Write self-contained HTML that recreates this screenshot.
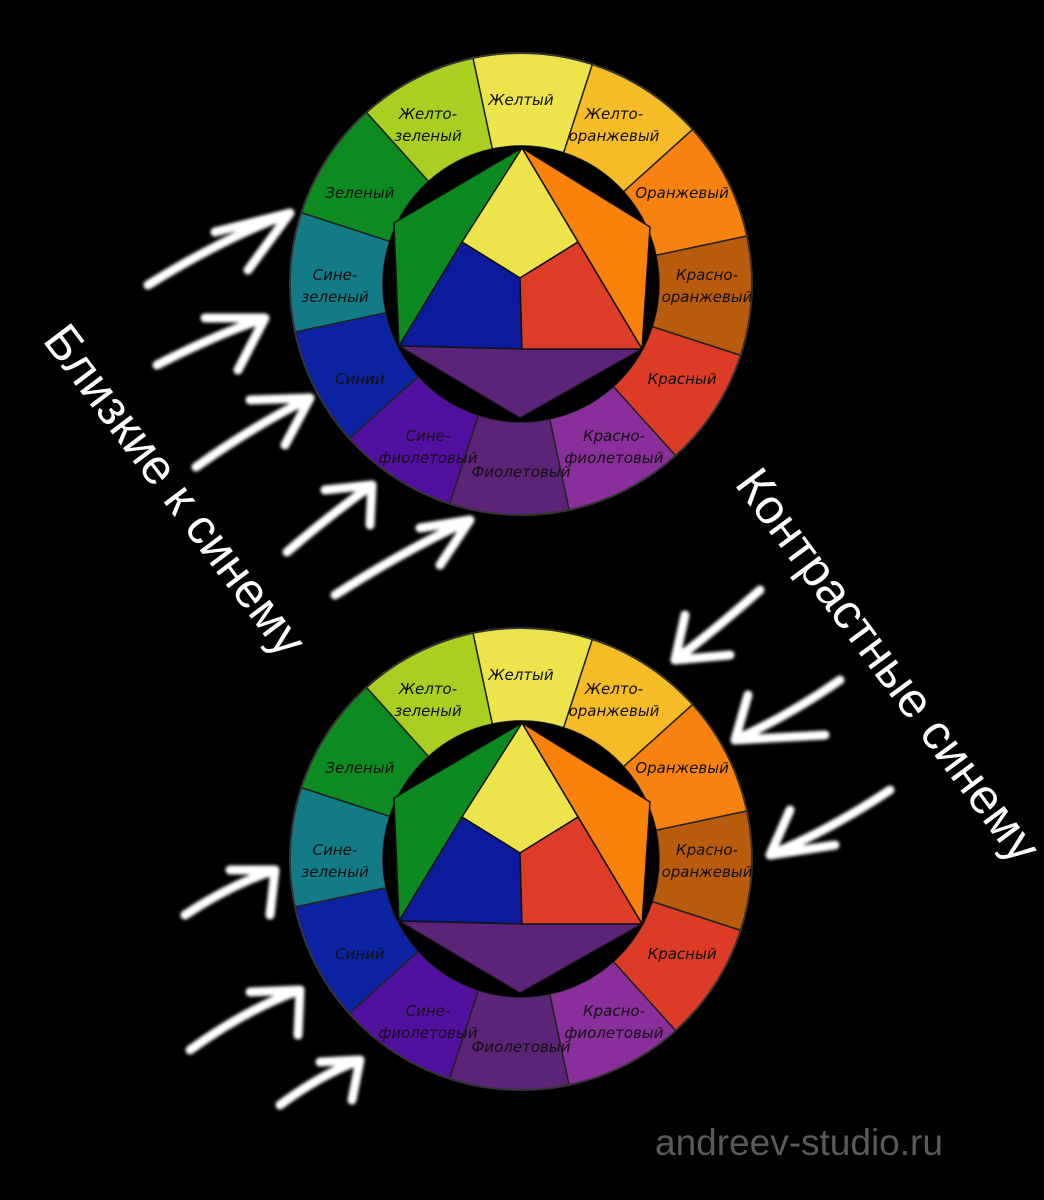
<!DOCTYPE html>
<html><head><meta charset="utf-8"><style>
html,body{margin:0;padding:0;background:#000;}
svg{display:block;}
.lbl{font-family:"DejaVu Sans","Liberation Sans",sans-serif;font-size:15px;fill:#111;text-anchor:middle;font-style:italic;}
.big{font-family:"Liberation Sans",sans-serif;font-size:49px;fill:#fff;text-anchor:middle;}
.ar{fill:none;stroke:#fff;stroke-width:9;stroke-linecap:round;stroke-linejoin:round;filter:url(#bl);}
</style></head><body>
<svg id="s" width="1044" height="1200" viewBox="0 0 1044 1200" xmlns="http://www.w3.org/2000/svg">
<defs><filter id="bl" x="-20%" y="-20%" width="140%" height="140%"><feGaussianBlur stdDeviation="1.6"/></filter></defs>
<rect width="1044" height="1200" fill="#000"/>
<g id="w1"></g><g id="w2" transform="translate(0,575)"></g>
<text class="big" transform="translate(162,500) rotate(53)">Близкие к синему</text>
<text class="big" transform="translate(875,675) rotate(53.5)">Контрастные синему</text>
<g class="ar">
<path d="M148,285 Q220,240 290,213 M215,232 L290,213 L248,270"/>
<path d="M157,365 Q215,335 265,318 M205,318 L265,318 L238,370"/>
<path d="M196,467 Q255,425 310,398 M250,400 L310,398 L285,445"/>
<path d="M287,552 Q330,515 372,485 M325,490 L372,485 L370,525"/>
<path d="M335,595 Q405,550 470,520 M420,528 L470,520 L440,565"/>
<path d="M760,590 Q715,630 675,660 M685,615 L675,660 L730,655"/>
<path d="M840,680 Q790,715 735,740 M748,695 L735,740 L825,735"/>
<path d="M890,790 Q830,830 770,855 M790,810 L770,855 L835,845"/>
<path d="M185,915 Q230,885 275,870 M230,870 L275,870 L270,915"/>
<path d="M190,1050 Q245,1010 300,990 M250,992 L300,990 L298,1035"/>
<path d="M280,1105 Q320,1075 360,1060 M320,1062 L360,1060 L352,1100"/>
</g>
<text x="655" y="1155" font-family="Liberation Sans,sans-serif" font-size="37" fill="#5a5a5a">andreev-studio.ru</text>
</svg>
<script>
var segs=[["#ece44a",["Желтый"]],["#f6bc28",["Желто-","оранжевый"]],["#f7820f",["Оранжевый"]],["#b85b0c",["Красно-","оранжевый"]],["#dc3b26",["Красный"]],["#8a2e9c",["Красно-","фиолетовый"]],["#5c2479",["Фиолетовый"]],["#5210a0",["Сине-","фиолетовый"]],["#0d22a0",["Синий"]],["#127b86",["Сине-","зеленый"]],["#0d8a20",["Зеленый"]],["#a8cf22",["Желто-","зеленый"]]];
var cx=521,cy=284,R=231,r=138,rot=3;
function P(a,rad){a=(a-90)*Math.PI/180;return [cx+rad*Math.cos(a),cy+rad*Math.sin(a)];}
var h='';
segs.forEach(function(s,i){var a0=i*30-15+rot,a1=i*30+15+rot;var p1=P(a0,R),p2=P(a1,R),p3=P(a1,r),p4=P(a0,r);
h+='<path d="M'+p1+' A'+R+','+R+' 0 0 1 '+p2+' L'+p3+' A'+r+','+r+' 0 0 0 '+p4+' Z" fill="'+s[0]+'" stroke="#222" stroke-width="1.5"/>';});
h+='<circle cx="'+cx+'" cy="'+cy+'" r="'+R+'" fill="none" stroke="#333" stroke-width="2"/>';
h+='<circle cx="'+cx+'" cy="'+cy+'" r="'+r+'" fill="#000"/>';
segs.forEach(function(s,i){var a=i*30;var p=P(a,186);var L=s[1];var y0=p[1]+7-(L.length-1)*11;
L.forEach(function(t,k){h+='<text class="lbl" x="'+p[0]+'" y="'+(y0+k*22)+'">'+t+'</text>';});});
var T=[522,148],GL=[394,223],BL=[399,346],BR=[642,349],OR=[650,227],V=[520,418],YL=[462,242],YR=[578,242],C=[520,278],BC=[522,349];
function poly(pts,c){return '<polygon points="'+pts.map(function(p){return p.join(',')}).join(' ')+'" fill="'+c+'" stroke="#111" stroke-width="1.5"/>';}
h+=poly([T,GL,BL],"#0b8a1f")+poly([T,OR,BR],"#f8820c")+poly([BL,BR,V],"#5b2479")+poly([T,YR,C,YL],"#ece44a")+poly([YL,C,BC,BL],"#0c1b9c")+poly([YR,BR,BC,C],"#dd3d27");
document.getElementById('w1').innerHTML=h;document.getElementById('w2').innerHTML=h;
</script>
</body></html>
